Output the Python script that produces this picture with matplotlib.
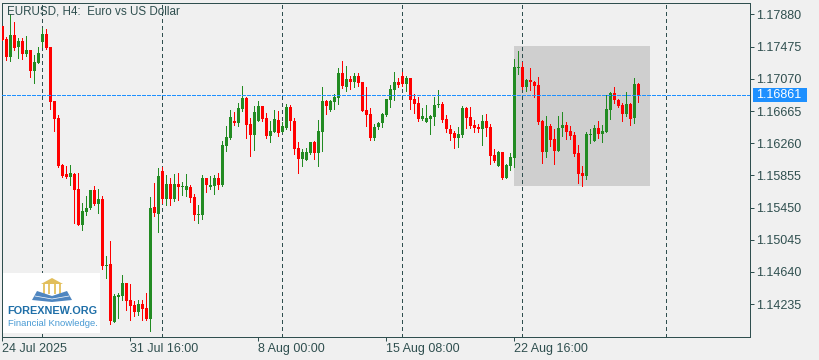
#!/usr/bin/env python3
"""EURUSD H4 candlestick chart, MT4 terminal look."""

import matplotlib
matplotlib.use("Agg")
import matplotlib.pyplot as plt
from matplotlib.patches import Polygon, Rectangle

# ── Data ─────────────────────────────────────────────────────────────
opens = [
    117735, 117572, 117345, 117622, 117471, 117546, 117383, 117433, 117169, 117269,
    117534, 117635, 117471, 116791, 116577, 115985, 115872, 115834, 115872, 115683,
    115230, 115393, 115444, 115670, 115494, 115557, 114714, 114739, 114009, 114323,
    114336, 114500, 114286, 114223, 114135, 114235, 114185, 114046, 115456, 115368,
    115910, 115557, 115746, 115557, 115746, 115708, 115670, 115708, 115582, 115356,
    115356, 115821, 115708, 115721, 115821, 115733, 116224, 116325, 116539, 116514,
    116690, 116829, 116501, 116363, 116539, 116728, 116577, 116350, 116401, 116552,
    116401, 116451, 116715, 116539, 116199, 116061, 116048, 116136, 116275, 116136,
    116401, 116791, 116678, 116778, 116829, 117144, 116967, 117068, 117030, 117106,
    117030, 116678, 116627, 116325, 116464, 116514, 116615, 116804, 116930, 117030,
    117106, 117005, 117081, 116816, 116766, 116564, 116527, 116564, 116590, 116741,
    116753, 116564, 116438, 116388, 116325, 116363, 116703, 116590, 116489, 116464,
    116438, 116539, 116464, 116111, 115973, 116149, 115821, 115973, 116073, 117206,
    117219, 116967, 117055, 117030, 116992, 116539, 116149, 116476, 116313, 116161,
    116451, 116489, 116413, 116363, 116136, 115884, 115847, 116363, 116287, 116451,
    116376, 116401, 116678, 116892, 116804, 116741, 116627, 116753, 116577, 117005,
]
highs = [
    117735, 117597, 117886, 117786, 117584, 117584, 117609, 117433, 117370, 117471,
    117710, 117698, 117471, 116791, 116615, 115998, 115973, 115985, 115884, 115884,
    115507, 115595, 115670, 115721, 115683, 115595, 114840, 115028, 114361, 114374,
    114600, 114500, 114487, 114273, 114286, 114286, 114374, 115582, 115759, 115947,
    115960, 115859, 115821, 115872, 115884, 115771, 115872, 115733, 115620, 115481,
    115859, 115821, 115847, 115859, 115884, 116287, 116476, 116678, 116652, 116766,
    116980, 116841, 116577, 116728, 116791, 116728, 116640, 116539, 116678, 116665,
    116527, 116753, 116741, 116577, 116275, 116187, 116199, 116275, 116287, 116552,
    116967, 116804, 116804, 116879, 117206, 117295, 117232, 117106, 117144, 117144,
    117030, 116967, 116703, 116501, 116527, 116640, 116816, 116992, 117156, 117081,
    117156, 117106, 117081, 116879, 116841, 116703, 116741, 116615, 116841, 116930,
    116778, 116615, 116489, 116413, 116464, 116728, 116715, 116715, 116552, 116501,
    116615, 116627, 116501, 116187, 116161, 116149, 115998, 116136, 117320, 117420,
    117282, 117068, 117206, 117043, 117093, 116552, 116602, 116501, 116438, 116602,
    116652, 116527, 116476, 116401, 116237, 115973, 116401, 116438, 116489, 116539,
    116489, 116867, 116904, 116967, 116816, 116766, 116904, 116766, 117081, 117018,
]
lows = [
    117559, 117307, 117295, 117433, 117332, 117320, 117358, 117093, 117018, 117269,
    117471, 117446, 116690, 116413, 115960, 115834, 115821, 115733, 115255, 115230,
    115167, 115356, 115431, 115481, 115381, 114676, 114563, 113984, 114009, 114059,
    114286, 114160, 114034, 114085, 114097, 114034, 114034, 113895, 115343, 115142,
    115507, 115481, 115481, 115532, 115545, 115608, 115595, 115519, 115293, 115255,
    115305, 115645, 115683, 115620, 115683, 115721, 116161, 116313, 116489, 116476,
    116665, 116325, 116099, 116174, 116539, 116539, 116325, 116275, 116401, 116350,
    116401, 116438, 116426, 116124, 115884, 115973, 116048, 116124, 116061, 115973,
    116161, 116627, 116665, 116690, 116753, 116955, 116917, 116942, 116967, 116980,
    116665, 116476, 116300, 116300, 116438, 116464, 116602, 116715, 116804, 116967,
    116980, 116917, 116690, 116640, 116539, 116552, 116527, 116376, 116489, 116715,
    116527, 116401, 116300, 116199, 116212, 116338, 116451, 116451, 116401, 116401,
    116237, 116350, 115998, 116023, 115973, 115809, 115821, 115922, 115960, 117131,
    116942, 116917, 116930, 116841, 116501, 116010, 116086, 116224, 115998, 116161,
    116350, 116313, 116313, 116099, 115759, 115721, 115809, 116262, 116287, 116325,
    116275, 116401, 116564, 116766, 116715, 116539, 116602, 116489, 116514, 116778,
]
closes = [
    117559, 117345, 117622, 117458, 117546, 117383, 117433, 117169, 117282, 117395,
    117635, 117458, 116778, 116564, 115973, 115847, 115834, 115884, 115670, 115230,
    115406, 115444, 115670, 115494, 115557, 114714, 114727, 114021, 114336, 114349,
    114500, 114273, 114210, 114135, 114235, 114172, 114046, 115444, 115381, 115847,
    115557, 115746, 115557, 115746, 115708, 115721, 115721, 115570, 115356, 115368,
    115821, 115733, 115733, 115821, 115733, 116237, 116338, 116590, 116514, 116703,
    116829, 116489, 116363, 116652, 116728, 116564, 116350, 116413, 116564, 116388,
    116476, 116715, 116539, 116187, 116061, 116149, 116149, 116275, 116136, 116413,
    116791, 116728, 116791, 116841, 117144, 116980, 117068, 117030, 117106, 117018,
    116665, 116615, 116325, 116464, 116514, 116627, 116816, 116942, 117030, 116992,
    117005, 117081, 116804, 116753, 116564, 116602, 116577, 116602, 116741, 116753,
    116552, 116438, 116376, 116325, 116376, 116703, 116577, 116476, 116451, 116438,
    116539, 116451, 116099, 116036, 116149, 115821, 115985, 116086, 117219, 117219,
    116967, 117055, 117030, 116980, 116527, 116149, 116476, 116300, 116161, 116451,
    116489, 116401, 116350, 116124, 115872, 115847, 116376, 116376, 116451, 116376,
    116413, 116690, 116892, 116804, 116728, 116627, 116753, 116564, 117005, 116861,
]

price_ticks = [1.17880, 1.17475, 1.17070, 1.16665, 1.16260, 1.15855, 1.15450, 1.15045, 1.14640, 1.14235]
time_ticks  = [0, 32, 64, 96, 128]
time_labels = ["24 Jul 2025", "31 Jul 16:00", "8 Aug 00:00", "15 Aug 08:00", "22 Aug 16:00"]
grid_bars   = [10, 40, 70, 100, 130, 166]
bid_price   = 1.16861

# ── Style ────────────────────────────────────────────────────────────
W, H    = 820, 360
BG      = "#F0F0F0"
INK     = "#2F4F4F"
UP      = "#228B22"
DOWN    = "#FF0000"
BID     = "#1E90FF"
BOX     = "#CFCFCF"
PX      = 0.72   # one pixel in points at dpi 100
FS      = 9.0

plt.rcParams["font.family"] = ["Liberation Sans", "DejaVu Sans"]

fig = plt.figure(figsize=(W / 100, H / 100), dpi=100, facecolor=BG)
ax = fig.add_axes([2.5 / W, 1 - 336.5 / H, 748 / W, 334 / H], facecolor=BG)

ax.set_xlim(0, 187)
ax.set_ylim(1.13826, 1.18031)

# ── Shaded box, grid, bid line ───────────────────────────────────────
ax.add_patch(Rectangle((128, 1.15721), 34, 1.17483 - 1.15721, facecolor=BOX, edgecolor="none", zorder=1))
for g in grid_bars:
    ax.axvline(g, color=INK, lw=PX, ls=(0, (3, 3)), antialiased=False, zorder=2)

# ── Candles ──────────────────────────────────────────────────────────
for i, (o, h, l, c) in enumerate(zip(opens, highs, lows, closes)):
    col = UP if c >= o else DOWN
    top, bot = max(o, c) / 1e5, min(o, c) / 1e5
    ax.vlines(i, l / 1e5, h / 1e5, color=col, lw=PX, antialiased=False, zorder=3)
    ax.bar(i, max(top - bot, 0.000126), bottom=bot, width=0.75, color=col, linewidth=0,
           antialiased=False, zorder=3)

ax.axhline(bid_price, color=BID, lw=PX, ls=(0, (3, 2)), antialiased=False, zorder=4)

# ── Axes furniture ───────────────────────────────────────────────────
for s in ax.spines.values():
    s.set_color(INK)
    s.set_linewidth(PX)

ax.yaxis.tick_right()
ax.set_yticks(price_ticks)
ax.set_yticklabels([f"{p:.5f}" for p in price_ticks])
ax.tick_params(axis="y", length=3, width=PX, color=INK, labelcolor=INK, labelsize=FS, pad=0.8)
ax.set_xticks(time_ticks)
ax.set_xticklabels(time_labels, ha="left")
ax.tick_params(axis="x", length=3, width=PX, color=INK, labelcolor=INK, labelsize=FS, pad=1.5)

fig.text(7 / W, 1 - 12 / H, "EURUSD, H4:  Euro vs US Dollar", color=INK, fontsize=8.4,
         va="center", ha="left", zorder=6)

# Bid price tag
fig.patches.append(Rectangle((753 / W, 1 - 102 / H), 54 / W, 14 / H, transform=fig.transFigure,
                             facecolor=BID, edgecolor="none"))
fig.text(756.5 / W, 1 - 95.5 / H, f"{bid_price:.5f}", color="white", fontsize=FS, va="center", ha="left")

# ── Logo ─────────────────────────────────────────────────────────────
logo = fig.add_axes([3 / W, 1 - 333 / H, 97 / W, 60 / H], facecolor="white", zorder=5)
logo.set_xlim(3, 100)
logo.set_ylim(333, 273)
logo.axis("off")
logo.add_patch(Rectangle((3, 273), 97, 60, facecolor="white", edgecolor="none"))
logo.add_patch(Polygon([(41, 284), (52, 278), (63, 284)], facecolor="#E2BE5A", edgecolor="none"))
for cx in (44, 49, 55, 60):
    logo.add_patch(Rectangle((cx - 1.2, 284), 2.6, 10, facecolor="#E6C66C", edgecolor="none"))
logo.add_patch(Polygon([(32, 300), (37, 291), (52, 296), (67, 291), (72, 300), (52, 302)],
                       facecolor="#4F86C0", edgecolor="none"))
logo.plot([35, 52, 69], [296, 299, 296], color="white", lw=0.5)
logo.text(52, 310.5, "FOREXNEW.ORG", color="#1F6FA8", fontsize=7.8, fontweight="bold",
          ha="center", va="center")
logo.text(52.5, 323, "Financial Knowledge.", color="#4A9BD4", fontsize=6.8,
          ha="center", va="center")

fig.savefig("out.png", dpi=100, facecolor=BG)
